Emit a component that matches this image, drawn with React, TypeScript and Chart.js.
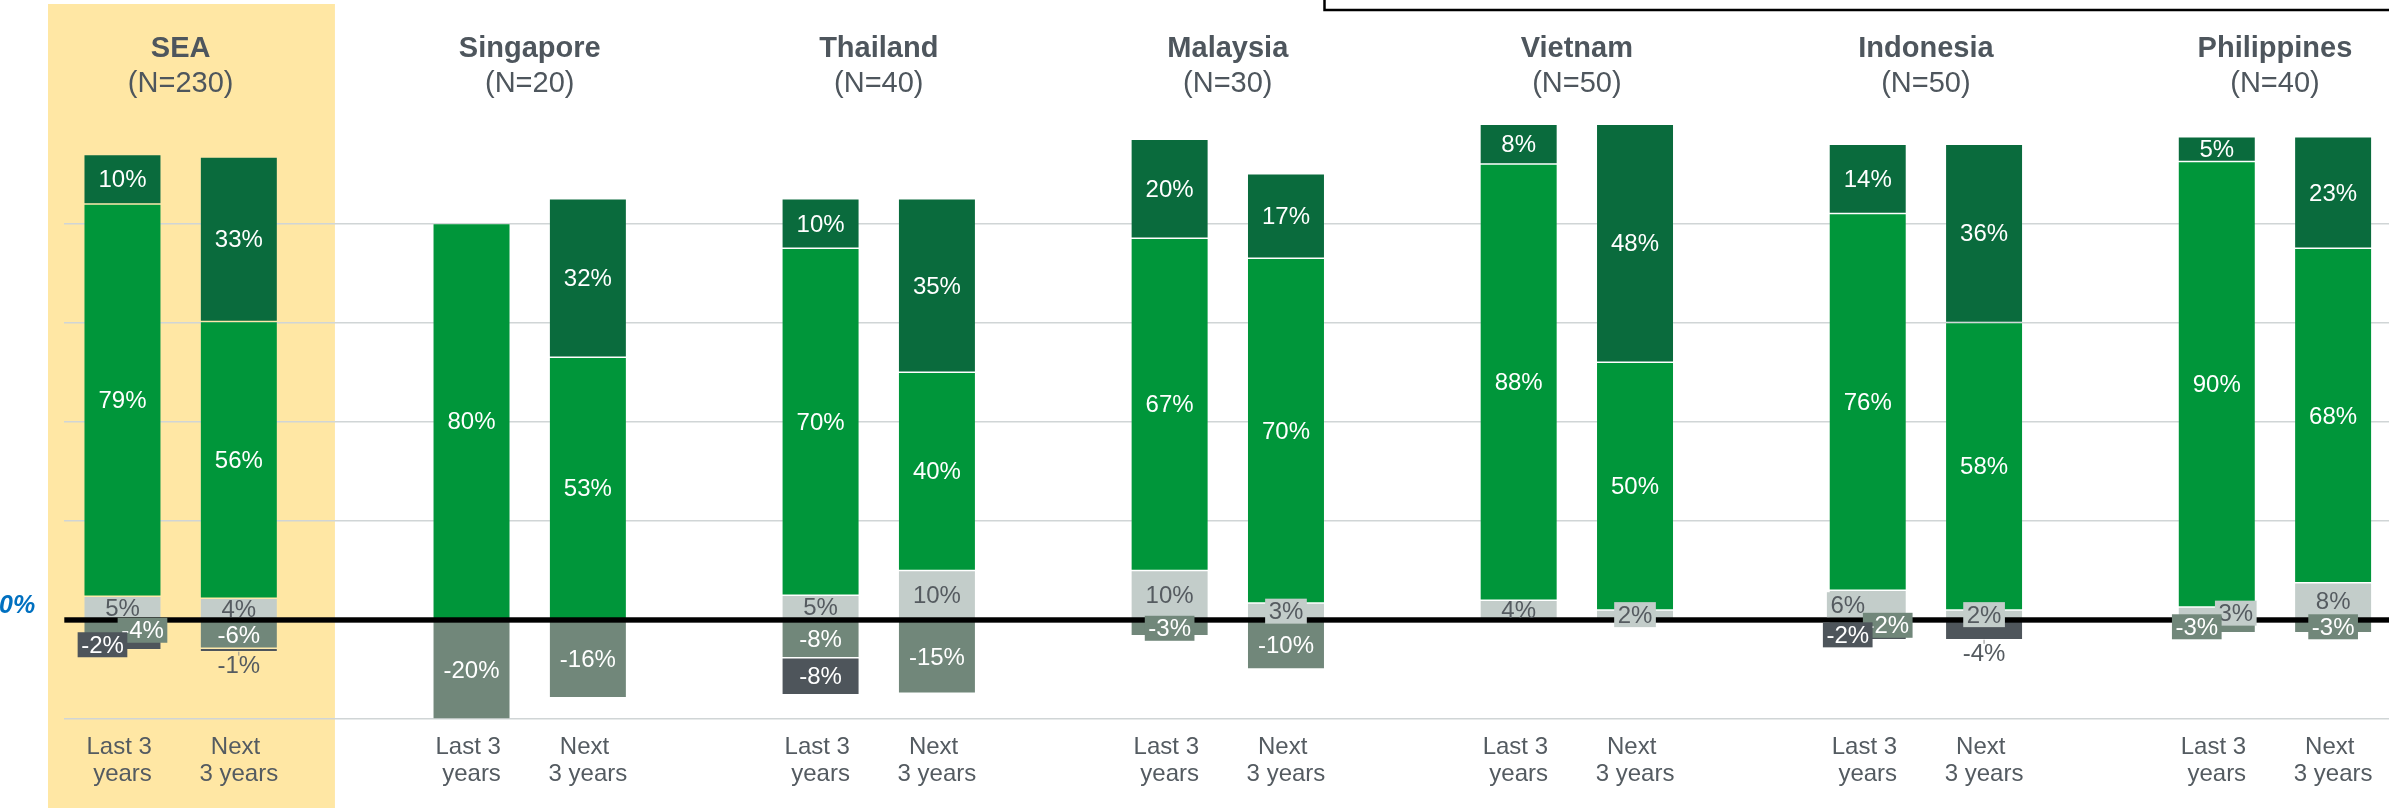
import React, { useEffect, useRef } from "react";
import { Chart, registerables } from "chart.js";

Chart.register(...registerables);

// ---------------- data ----------------
const regions = ["SEA", "Singapore", "Thailand", "Malaysia", "Vietnam", "Indonesia", "Philippines"];
const sampleSizes = [230, 20, 40, 30, 50, 50, 40];
const periodLabels = [["Last 3 ", "years"], ["Next ", "3 years"]];

// one value per bar: SEA last, SEA next, Singapore last, Singapore next, ...
const slightIncrease = [4.8, 4.4, 0, 0, 5, 10, 10, 3.4, 4, 2, 6, 2, 2.6, 7.5];
const increase = [79.1, 55.8, 80, 53, 70, 40, 67, 69.6, 88, 50, 76, 58, 89.9, 67.5];
const strongIncrease = [10, 33.2, 0, 32, 10, 35, 20, 17, 8, 48, 14, 36, 5, 22.5];
const decrease = [-4, -5.7, -20, -15.7, -7.6, -14.8, -3.2, -9.9, 0, 0, -2, 0, -2.6, -2.6];
const strongDecrease = [-2, -0.7, 0, 0, -7.5, 0, 0, 0, 0, 0, -2, -4, 0, 0];

const seriesNames = ["Slight increase", "Increase", "Strong increase", "Decrease", "Strong decrease"];
const seriesValues = [slightIncrease, increase, strongIncrease, decrease, strongDecrease];

// ---------------- styles ----------------
const FONT = "'Liberation Sans', Arial, Helvetica, sans-serif";
const seriesColors = ["#C3CDCA", "#00963A", "#0A6B3D", "#71877A", "#4E555B"];
const labelInk = ["#555B60", "#FFFFFF", "#FFFFFF", "#FFFFFF", "#FFFFFF"];
const TEXT = "#4E565D";
const HIGHLIGHT = "#FFE7A4";
const X_AXIS_HEIGHT = 70;

// label placement tweaks (bar index : series index)
const labelPlacement: Record<string, { dx?: number; outside?: boolean }> = {
  "0:3": { dx: 20 },
  "0:4": { dx: -20 },
  "1:4": { outside: true },
  "10:0": { dx: -20 },
  "10:3": { dx: 20 },
  "10:4": { dx: -20 },
  "11:4": { outside: true },
  "12:0": { dx: 19 },
  "12:3": { dx: -20 },
};

// slots: Last, Next, gap, Last, Next, gap, ...
const slotLabels: string[][] = [];
const slotBar: (number | null)[] = [];
regions.forEach((_, g) => {
  periodLabels.forEach((p, k) => {
    slotLabels.push(p);
    slotBar.push(g * 2 + k);
  });
  if (g < regions.length - 1) {
    slotLabels.push([""]);
    slotBar.push(null);
  }
});

const fmt = (v: number) => (v < 0 ? "-" : "") + Math.round(Math.abs(v)) + "%";

const decorPlugin = {
  id: "decor",
  beforeDraw(chart: any) {
    const { ctx } = chart;
    const x = chart.scales.x;
    const step = x.getPixelForTick(1) - x.getPixelForTick(0);
    const left = x.getPixelForTick(0) - step * 0.64;
    const right = x.getPixelForTick(1) + step * 0.826;
    ctx.save();
    ctx.fillStyle = HIGHLIGHT;
    ctx.fillRect(left, 4, right - left, chart.height - 4);
    ctx.restore();
  },
  afterDatasetsDraw(chart: any) {
    const { ctx, chartArea } = chart;
    const y = chart.scales.y;
    const y0 = y.getPixelForValue(0);
    ctx.save();
    ctx.fillStyle = "#000000";
    ctx.fillRect(chartArea.left, y0 - 2.7, chart.width - chartArea.left, 5.4);

    ctx.font = `24px ${FONT}`;
    ctx.textAlign = "center";
    ctx.textBaseline = "middle";
    slotBar.forEach((b, s) => {
      if (b === null) return;
      for (let d = 0; d < chart.data.datasets.length; d++) {
        const v = chart.data.datasets[d].data[s];
        if (v === null || v === undefined) continue;
        const el = chart.getDatasetMeta(d).data[s];
        const p = el.getProps(["x", "y", "base"], true);
        const top = Math.min(p.y, p.base);
        const bottom = Math.max(p.y, p.base);
        const h = bottom - top;
        const text = fmt(v);
        const place = labelPlacement[`${b}:${d}`] || {};
        if (place.outside) {
          ctx.strokeStyle = "#8C8C8C";
          ctx.lineWidth = 1;
          ctx.beginPath();
          ctx.moveTo(p.x, bottom);
          ctx.lineTo(p.x, bottom + 4);
          ctx.stroke();
          ctx.fillStyle = "#555B60";
          ctx.fillText(text, p.x, bottom + 15);
          continue;
        }
        const lx = p.x + (place.dx || 0);
        const ly = (top + bottom) / 2;
        if (h < 18 || place.dx) {
          const w = ctx.measureText(text).width + 7;
          ctx.fillStyle = seriesColors[d];
          ctx.fillRect(lx - w / 2, ly - 12.5, w, 25);
        }
        ctx.fillStyle = labelInk[d];
        ctx.fillText(text, lx, ly + 1.5);
      }
    });
    ctx.restore();
  },
  afterDraw(chart: any) {
    const { ctx } = chart;
    const x = chart.scales.x;
    const y0 = chart.scales.y.getPixelForValue(0);
    ctx.save();
    ctx.textAlign = "center";
    ctx.textBaseline = "alphabetic";
    ctx.fillStyle = TEXT;
    regions.forEach((r, g) => {
      const cx = (x.getPixelForTick(3 * g) + x.getPixelForTick(3 * g + 1)) / 2;
      ctx.font = `bold 29px ${FONT}`;
      ctx.fillText(r, cx, 56.7);
      ctx.font = `29px ${FONT}`;
      ctx.fillText(`(N=${sampleSizes[g]})`, cx, 92.3);
    });
    // axis zero label
    ctx.textAlign = "left";
    ctx.font = `italic bold 25px ${FONT}`;
    ctx.fillStyle = "#0070C0";
    ctx.fillText("0%", -1, y0 - 6.7);
    // cut-off legend frame at the top right
    ctx.strokeStyle = "#000000";
    ctx.lineWidth = 2.5;
    ctx.strokeRect(1324.5, -20, 1300, 30);
    ctx.restore();
  },
};

export default function App() {
  const ref = useRef<HTMLCanvasElement | null>(null);

  useEffect(() => {
    if (!ref.current) return;
    const datasets = seriesValues.map((vals, d) => ({
      label: seriesNames[d],
      data: slotBar.map((b) => (b === null || vals[b] === 0 ? null : vals[b])),
      backgroundColor: seriesColors[d],
      borderColor: "rgba(255,255,255,0.15)",
      borderWidth: 0.75,
      borderSkipped: false as const,
      categoryPercentage: 1,
      barPercentage: 0.666,
    }));
    const chart = new Chart(ref.current, {
      type: "bar",
      data: { labels: slotLabels, datasets },
      options: {
        responsive: false,
        animation: false,
        devicePixelRatio: 1,
        layout: { padding: { left: 64.3, right: 8.7, top: 124.3, bottom: 808 - 719.1 - X_AXIS_HEIGHT } },
        plugins: { legend: { display: false }, tooltip: { enabled: false } },
        scales: {
          x: {
            stacked: true,
            offset: true,
            grid: { display: false, drawTicks: false },
            border: { display: false },
            afterFit: (scale: any) => {
              scale.height = X_AXIS_HEIGHT;
            },
            ticks: {
              autoSkip: false,
              maxRotation: 0,
              minRotation: 0,
              padding: 14.5,
              color: "#545B61",
              font: { family: FONT, size: 24, lineHeight: 1.14 },
            },
          },
          y: {
            stacked: true,
            min: -20,
            max: 100,
            ticks: { display: false, stepSize: 20 },
            border: { display: false },
            grid: {
              drawTicks: false,
              lineWidth: 1.5,
              color: (c: any) =>
                c.tick && (c.tick.value > 80 || c.tick.value === 0) ? "rgba(0,0,0,0)" : "#D0D5D6",
            },
          },
        },
      },
      plugins: [decorPlugin],
    });
    return () => chart.destroy();
  }, []);

  return (
    <div
      style={{
        position: "fixed",
        left: 0,
        top: 0,
        width: 2389,
        height: 808,
        overflow: "hidden",
        background: "#FFFFFF",
      }}
    >
      <canvas ref={ref} width={2400} height={808} style={{ display: "block", width: 2400, height: 808 }} />
    </div>
  );
}
